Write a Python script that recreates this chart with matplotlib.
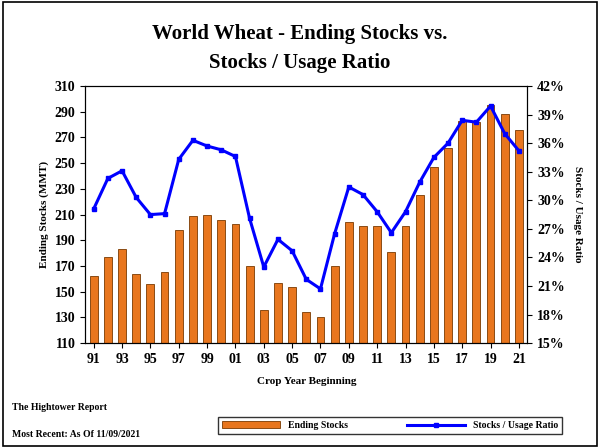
import matplotlib
matplotlib.use('Agg')
import matplotlib.pyplot as plt
from matplotlib.patches import Rectangle

plt.rcParams['font.family'] = ['Liberation Serif', 'DejaVu Serif']
plt.rcParams['font.weight'] = 'bold'
plt.rcParams['axes.labelweight'] = 'bold'

years = list(range(1991, 2022))
stocks = [162, 177, 183, 164, 156, 165, 198, 209, 210, 206, 203, 170, 136, 157, 154,
          134, 130, 170, 204, 201, 201, 181, 201, 225, 247, 262, 283, 282, 295, 288, 276]
ratio = [29.1, 32.3, 33.1, 30.3, 28.5, 28.6, 34.3, 36.3, 35.7, 35.3, 34.6, 28.1, 23.0, 25.9, 24.7,
         21.7, 20.7, 26.5, 31.4, 30.6, 28.8, 26.6, 28.8, 31.9, 34.5, 36.0, 38.4, 38.2, 39.9, 37.0, 35.2]
tick_years = years[::2]
tick_labels = [f"{y % 100:02d}" for y in tick_years]

fig = plt.figure(figsize=(6, 4.48), dpi=100)
fig.patches.append(Rectangle((0.005, 0.005), 0.99, 0.99, transform=fig.transFigure,
                             fill=False, lw=1.2, ec='black'))
ax = fig.add_axes([0.142, 0.234, 0.737, 0.574])
ax.bar(years, stocks, width=0.55, bottom=0, color='#E8761E', edgecolor='#7A3A00', lw=0.6,
       label='Ending Stocks')
ax.set_ylim(110, 310)
ax.set_yticks(range(110, 311, 20))
ax.set_xlim(1990.4, 2021.6)
ax.set_xticks(tick_years)
ax.set_xticklabels(tick_labels, fontsize=10)
ax.tick_params(axis='y', labelsize=10)
ax.set_ylabel('Ending Stocks (MMT)', fontsize=8)
ax.set_xlabel('Crop Year Beginning', fontsize=8, labelpad=8)

ax2 = ax.twinx()
ax2.plot(years, ratio, color='#0000FF', lw=2.2, marker='s', ms=3.5, label='Stocks / Usage Ratio')
ax2.set_ylim(15, 42)
ax2.set_yticks(range(15, 43, 3))
ax2.set_yticklabels([f"{v}%" for v in range(15, 43, 3)], fontsize=10)
ax2.set_ylabel('Stocks / Usage Ratio', fontsize=8, rotation=270, labelpad=12)

fig.text(0.5, 0.925, 'World Wheat - Ending Stocks vs.', ha='center', va='center', fontsize=15)
fig.text(0.5, 0.86, 'Stocks / Usage Ratio', ha='center', va='center', fontsize=15)
fig.text(0.02, 0.085, 'The Hightower Report', fontsize=7)
fig.text(0.02, 0.025, 'Most Recent: As Of 11/09/2021', fontsize=7)

h1, l1 = ax.get_legend_handles_labels()
h2, l2 = ax2.get_legend_handles_labels()
fig.legend(h1 + h2, l1 + l2, loc='center', bbox_to_anchor=(0.65, 0.05), ncol=2,
           fontsize=7, fancybox=False, edgecolor='black', handlelength=6, columnspacing=6)

fig.savefig('out.png', dpi=100)
